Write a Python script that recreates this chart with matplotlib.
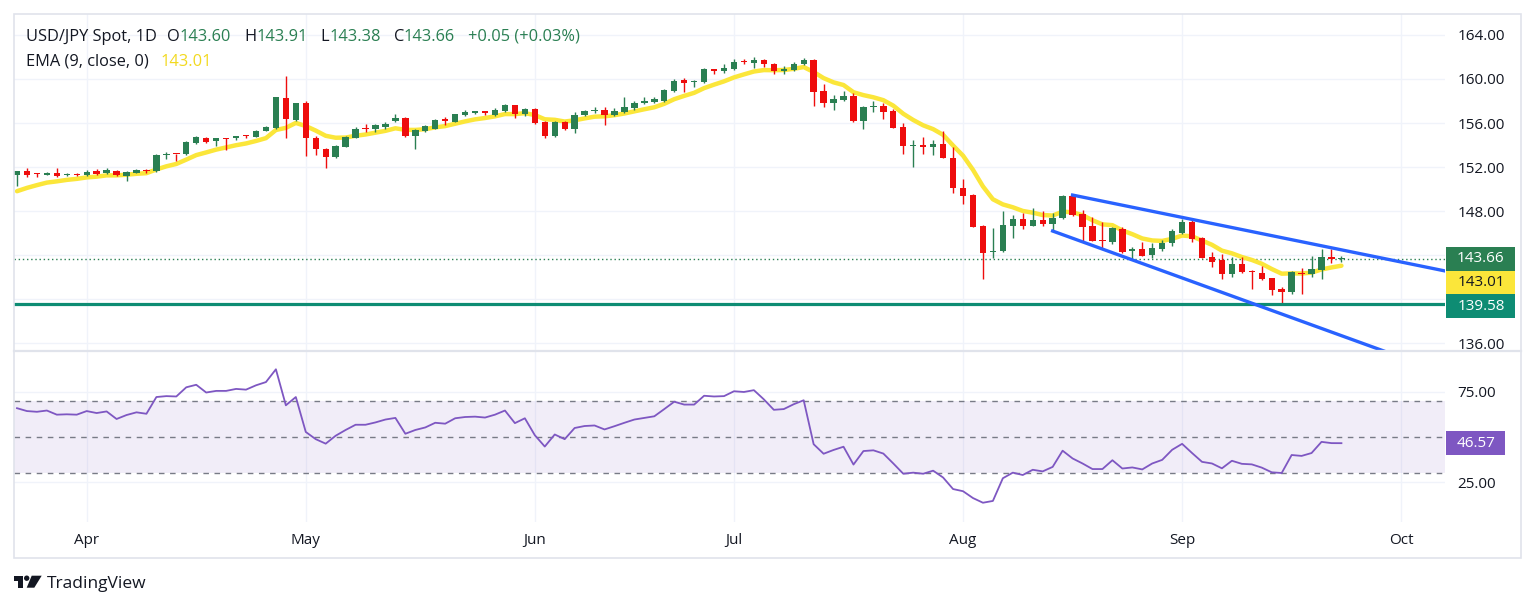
import matplotlib
matplotlib.use('Agg')
import matplotlib.pyplot as plt
import matplotlib.patches as mpatches
from matplotlib.transforms import blended_transform_factory
import numpy as np

plt.rcParams['font.family'] = ['Open Sans', 'DejaVu Sans']

# daily bars, index 0 = 1 Apr 2024 (first bar shown is 21 Mar, last is 24 Sep)
first_bar = -7
opens = [151.27, 151.60, 151.42, 151.30, 151.50, 151.30, 151.36,
         151.27, 151.60, 151.45, 151.66, 151.20, 151.50, 151.75, 151.60, 153.10, 153.20,
         153.15, 154.20, 154.66, 154.35, 154.63, 154.60, 154.87, 154.75, 155.30, 155.57,
         158.30, 156.25,
         157.86, 154.66, 153.65, 152.88, 153.86, 154.66, 155.54, 155.45, 155.63, 156.18,
         156.49, 154.80, 155.27, 155.50, 156.33, 156.10, 156.70, 156.95, 157.06, 156.70,
         157.10, 157.64, 156.79,
         157.30, 156.10, 154.80, 156.10, 155.50, 156.75, 157.05, 157.18, 156.73, 157.03,
         157.33, 157.79, 157.90, 158.00, 158.91, 159.91, 159.76, 159.70, 160.88, 160.76,
         160.91, 161.64, 161.42, 161.73, 161.33, 160.76, 160.82, 161.36, 161.73, 158.94,
         157.85, 158.09, 158.45, 156.21, 157.42, 157.55, 157.12, 155.60, 153.90, 154.00,
         153.85, 154.09, 152.79,
         150.06, 149.45, 146.64, 144.24, 144.36, 146.64, 147.30, 146.67, 147.21, 146.79,
         147.33, 149.39, 147.70, 146.64, 145.36, 145.15, 146.36, 144.39, 144.55, 144.00,
         144.55, 145.06,
         145.97, 147.03, 145.52, 143.79, 143.55, 142.27, 143.18, 142.58, 142.40, 141.88,
         140.91, 140.60, 142.39, 142.30, 142.64, 143.85, 143.60]
highs = [151.66, 151.90, 151.48, 151.57, 151.95, 151.48, 151.43,
         151.73, 151.78, 151.90, 151.72, 151.60, 151.85, 151.80, 153.20, 153.37, 153.20,
         154.40, 154.80, 154.72, 154.66, 154.63, 154.84, 154.90, 155.33, 155.72, 158.38,
         160.30, 157.85,
         158.00, 154.80, 153.74, 154.00, 154.84, 155.63, 155.88, 155.88, 156.10, 156.80,
         156.55, 155.42, 155.80, 156.33, 156.55, 156.85, 157.20, 157.10, 157.10, 157.35,
         157.77, 157.65, 157.35,
         157.40, 156.18, 156.18, 156.18, 157.00, 157.22, 157.45, 157.50, 157.33, 158.33,
         158.03, 158.33, 158.40, 159.06, 159.97, 160.06, 159.91, 160.97, 160.88, 161.36,
         161.79, 161.79, 161.97, 161.79, 161.42, 161.18, 161.50, 161.88, 161.82, 159.55,
         158.55, 158.91, 158.70, 157.55, 158.00, 157.79, 157.24, 156.03, 154.45, 154.76,
         154.45, 155.30, 153.85,
         150.88, 149.54, 146.73, 146.42, 147.97, 147.64, 147.85, 148.24, 147.97, 147.79,
         149.45, 149.45, 148.09, 147.42, 147.03, 146.58, 146.58, 144.76, 145.21, 145.06,
         145.36, 146.33,
         147.27, 147.24, 145.67, 144.30, 144.09, 143.85, 143.79, 142.64, 143.03, 141.94,
         141.06, 142.55, 142.79, 143.94, 144.55, 144.55, 143.91]
lows = [150.30, 151.05, 151.05, 151.25, 151.05, 151.15, 151.20,
        151.18, 151.30, 151.36, 151.15, 150.75, 151.45, 151.45, 151.55, 152.76, 152.58,
        153.05, 154.10, 154.17, 153.95, 153.56, 154.50, 154.66, 154.70, 155.24, 155.50,
        154.60, 156.20,
        153.00, 153.13, 151.90, 152.82, 153.80, 154.60, 155.20, 155.20, 155.48, 156.12,
        154.72, 153.60, 155.20, 155.45, 155.80, 156.06, 156.64, 156.80, 156.73, 156.64,
        157.00, 156.43, 156.64,
        155.88, 154.60, 154.75, 155.33, 155.10, 156.68, 156.88, 155.82, 156.64, 156.88,
        157.18, 157.70, 157.79, 157.88, 158.79, 158.85, 159.30, 159.67, 160.42, 160.52,
        160.82, 161.33, 160.97, 161.12, 160.42, 160.42, 160.73, 161.27, 157.55, 157.49,
        157.18, 158.03, 156.10, 155.45, 157.03, 156.33, 155.52, 153.18, 152.03, 153.18,
        153.09, 152.79, 149.67,
        148.64, 146.52, 141.79, 143.70, 144.30, 145.58, 146.33, 146.64, 146.64, 146.12,
        147.24, 147.58, 145.30, 145.27, 144.55, 145.00, 144.15, 143.60, 143.91, 143.70,
        144.40, 144.85,
        145.88, 145.21, 143.70, 142.94, 141.85, 142.03, 142.33, 140.88, 141.73, 140.36,
        139.58, 140.50, 140.45, 141.97, 141.82, 143.24, 143.38]
closes = [151.60, 151.30, 151.36, 151.50, 151.15, 151.36, 151.30,
          151.57, 151.40, 151.70, 151.24, 151.54, 151.72, 151.66, 153.13, 153.20, 153.14,
          154.25, 154.72, 154.30, 154.60, 154.56, 154.80, 154.78, 155.27, 155.66, 158.32,
          156.33, 157.80,
          154.60, 153.65, 152.95, 153.95, 154.75, 155.48, 155.42, 155.80, 155.94, 156.45,
          154.80, 155.35, 155.70, 156.27, 156.18, 156.80, 157.00, 157.06, 156.95, 157.20,
          157.65, 156.79, 157.25,
          156.03, 154.80, 156.10, 155.50, 156.70, 157.11, 157.20, 156.73, 157.12, 157.49,
          157.85, 158.00, 158.15, 159.00, 159.85, 159.67, 159.85, 160.88, 160.76, 160.97,
          161.58, 161.52, 161.73, 161.33, 160.76, 160.88, 161.36, 161.73, 158.85, 157.85,
          158.15, 158.48, 156.18, 157.48, 157.55, 157.03, 155.58, 153.90, 154.00, 153.85,
          154.06, 152.85, 150.06,
          149.36, 146.58, 144.21, 144.39, 146.73, 147.30, 146.67, 147.21, 146.79, 147.40,
          149.36, 147.64, 146.58, 145.30, 145.30, 146.42, 144.30, 144.55, 143.94, 144.60,
          145.12, 146.21,
          146.97, 145.42, 143.76, 143.39, 142.27, 143.18, 142.48, 142.48, 141.82, 140.82,
          140.60, 142.45, 142.27, 142.70, 143.85, 143.60, 143.66]
rsi = [66.0, 64.4, 64.0, 64.7, 62.4, 62.6, 62.4,
       64.4, 63.3, 64.2, 60.0, 62.2, 63.7, 62.9, 72.2, 72.7, 72.5,
       77.6, 79.0, 74.7, 75.6, 75.6, 76.7, 76.3, 78.7, 80.5, 87.6,
       67.6, 72.2,
       52.8, 48.8, 46.3, 50.7, 53.9, 56.8, 56.8, 58.1, 59.7, 60.6,
       51.8, 53.9, 55.3, 57.9, 57.4, 60.4, 61.1, 61.3, 60.8, 62.4,
       64.7, 57.7, 60.4,
       51.0, 44.7, 51.4, 48.8, 55.0, 56.1, 56.4, 54.2, 56.0, 57.9,
       59.7, 60.6, 61.5, 65.5, 69.6, 68.0, 68.0, 72.9, 72.5, 72.7,
       75.4, 75.0, 76.0, 70.9, 65.1, 65.5, 68.2, 70.4, 46.0, 40.7,
       42.8, 44.6, 34.7, 42.2, 42.6, 40.8, 35.3, 29.6, 30.2, 29.6,
       31.3, 27.5, 21.1,
       19.9, 16.1, 13.5, 14.5, 27.1, 30.2, 28.9, 31.8, 30.9, 33.4,
       42.4, 38.1, 35.3, 32.2, 32.2, 37.1, 32.5, 33.1, 32.0, 35.3,
       37.3, 42.9,
       46.2, 41.1, 36.2, 35.3, 32.6, 36.8, 35.1, 34.8, 33.0, 30.4,
       30.0, 40.0, 39.5, 41.1, 47.3, 46.6, 46.57]
ema_seed = 149.35  # EMA(9) value just before the first visible bar

month_pos = [0, 22, 45, 65, 88, 110, 132]
month_labels = ['Apr', 'May', 'Jun', 'Jul', 'Aug', 'Sep', 'Oct']
price_grid = [136, 140, 144, 148, 152, 156, 160, 164]
price_ticklabels = ['136.00', '', '', '148.00', '152.00', '156.00', '160.00', '164.00']
rsi_grid = [25, 75]
rsi_levels = [30, 50, 70]
support = 139.58
upper_channel = ([99, 137], [149.45, 142.44])
lower_channel = ([97, 137], [146.18, 133.06])

header_values = ['143.60', '143.91', '143.38', '143.66']
change_text = '+0.05 (+0.03%)'
ema_text = '143.01'
rsi_text = '46.57'

GREEN = '#2a7f52'
RED = '#ee0d0d'
YELLOW = '#fbe63a'
TEAL = '#0e8c73'
BLUE = '#2962ff'
PURPLE = '#7e57c2'
DARK = '#131722'
GRID = '#f0f3fa'
BORDER = '#e0e3eb'
FS = 11
HFS = 11.8

W, H = 1536, 609
fig = plt.figure(figsize=(W / 100, H / 100), dpi=100)
fig.patch.set_facecolor('white')


def fig_box(x0, y0, x1, y1):
    return [x0 / W, 1 - y1 / H, (x1 - x0) / W, (y1 - y0) / H]


ax = fig.add_axes(fig_box(14, 14, 1445, 350))
rax = fig.add_axes(fig_box(14, 352, 1445, 522), sharex=ax)

o = np.array(opens)
h = np.array(highs)
l = np.array(lows)
c = np.array(closes)
idx = np.arange(first_bar, first_bar + len(c))

ema = []
prev = ema_seed
for v in c:
    prev = prev + (v - prev) * 2 / 10
    ema.append(prev)

for a in (ax, rax):
    for s in a.spines.values():
        s.set_visible(False)
    a.set_xlim(-7.3, 136.4)
    for m in month_pos:
        a.axvline(m, color=GRID, lw=1, zorder=0)

# price pane
ax.set_ylim(135.364, 165.909)
for g in price_grid:
    ax.axhline(g, color=GRID, lw=1, zorder=0)
ax.yaxis.tick_right()
ax.set_yticks(price_grid)
ax.set_yticklabels(price_ticklabels)
ax.tick_params(axis='y', length=0, pad=9, labelsize=FS, labelcolor=DARK)
ax.tick_params(axis='x', length=0, labelbottom=False)

ax.plot(idx, ema, color=YELLOW, lw=3.2, zorder=2, solid_capstyle='round')

col = np.where(c >= o, GREEN, RED)
ax.vlines(idx, l, h, colors=col, lw=1, zorder=3)
body = np.maximum(np.abs(c - o), 0.09)
ax.bar(idx, body, bottom=np.minimum(o, c), width=0.64, color=col, zorder=4)

ax.axhline(support, color=TEAL, lw=2.3, zorder=5)
ax.axhline(c[-1], color=GREEN, lw=1, ls=(0, (1, 2)), zorder=1)
ax.plot(upper_channel[0], upper_channel[1], color=BLUE, lw=2.4, zorder=5)
ax.plot(lower_channel[0], lower_channel[1], color=BLUE, lw=2.4, zorder=5)

# price scale boxes
tr = blended_transform_factory(ax.transAxes, ax.transData)
bh = 23.7 / 11
bw = 69 / 1431
y1 = c[-1]
y2 = y1 - bh
y3 = min(support, y2 - bh)
for yc, txt, fc, tc in [(y1, header_values[3], GREEN, 'white'),
                        (y2, ema_text, YELLOW, DARK),
                        (y3, f'{support:.2f}', TEAL, 'white')]:
    ax.add_patch(mpatches.Rectangle((1.001, yc - bh / 2), bw, bh, transform=tr,
                                    clip_on=False, fc=fc, ec='none', zorder=6))
    ax.text(1.001 + bw / 2, yc, txt, transform=tr, ha='center', va='center',
            color=tc, fontsize=FS, zorder=7)

# rsi pane
rax.set_ylim(2.8, 97.2)
for g in rsi_grid:
    rax.axhline(g, color=GRID, lw=1, zorder=0)
rax.axhspan(30, 70, color=PURPLE, alpha=0.1, lw=0, zorder=0)
for g in rsi_levels:
    rax.axhline(g, color='#787b86', lw=1, ls=(0, (4, 4)), zorder=1)
rax.plot(idx, rsi, color=PURPLE, lw=1.3, zorder=3)
rax.yaxis.tick_right()
rax.set_yticks(rsi_grid)
rax.set_yticklabels([f'{g:.2f}' for g in rsi_grid])
rax.tick_params(axis='y', length=0, pad=9, labelsize=FS, labelcolor=DARK)
rax.set_xticks(month_pos)
rax.set_xticklabels(month_labels)
rax.tick_params(axis='x', length=0, pad=8, labelsize=FS, labelcolor=DARK)
rtr = blended_transform_factory(rax.transAxes, rax.transData)
rbw = 59 / 1431
rbh = 24 / 1.8
rax.add_patch(mpatches.Rectangle((1.001, rsi[-1] - rbh / 2), rbw, rbh, transform=rtr,
                                 clip_on=False, fc=PURPLE, ec='none', zorder=6))
rax.text(1.001 + rbw / 2, rsi[-1], rsi_text, transform=rtr, ha='center', va='center',
         color='white', fontsize=FS, zorder=7)


def text_row(x, y, parts, size=HFS):
    # parts: (text, colour, gap in px before it)
    t = ax.annotate(parts[0][0], xy=(x / W, 1 - y / H), xycoords='figure fraction',
                    ha='left', va='baseline', color=parts[0][1], fontsize=size,
                    annotation_clip=False)
    for s, colr, gap in parts[1:]:
        t = ax.annotate(s, xy=(1, 0.5), xycoords=t, xytext=(gap * 0.72, 0),
                        textcoords='offset points', ha='left', va='center',
                        color=colr, fontsize=size, annotation_clip=False)


row = [('USD/JPY Spot, 1D', DARK)]
gap = 10
for k, v in zip(['O', 'H', 'L', 'C'], header_values):
    row += [(k, DARK, gap), (v, GREEN, 0)]
    gap = 13
row += [(change_text, GREEN, 13)]
text_row(26, 40.7, row)
text_row(26, 66, [('EMA (9, close, 0)', DARK), (ema_text, '#f2d91f', 12)])
text_row(26, 378, [('RSI (14)', DARK), (rsi_text, PURPLE, 11)])

# frame and pane separator
fig.add_artist(mpatches.Rectangle((14 / W, 1 - 558 / H), 1507 / W, 544 / H,
                                  transform=fig.transFigure, fill=False, ec=BORDER, lw=1.2))
fig.add_artist(plt.Line2D([14 / W, 1521 / W], [1 - 351 / H, 1 - 351 / H],
                          transform=fig.transFigure, color=BORDER, lw=1.6))


# TradingView mark
def px(x, y):
    return (x / W, 1 - y / H)


logo = [mpatches.Polygon([px(14, 575.7), px(23.3, 575.7), px(23.3, 587.7), px(18.3, 587.7),
                          px(18.3, 580.7), px(14, 580.7)], closed=True),
        mpatches.Ellipse(px(26.7, 578.2), 5.4 / W, 5.4 / H),
        mpatches.Polygon([px(31.7, 575.7), px(41.7, 575.7), px(34.3, 587.7), px(26.7, 587.7)],
                         closed=True)]
for p in logo:
    p.set_transform(fig.transFigure)
    p.set_facecolor(DARK)
    p.set_edgecolor('none')
    fig.add_artist(p)
fig.text(47 / W, 1 - 587.7 / H, 'TradingView', ha='left', va='baseline', fontsize=12.5,
         color=DARK)

fig.savefig('out.png', dpi=100)
